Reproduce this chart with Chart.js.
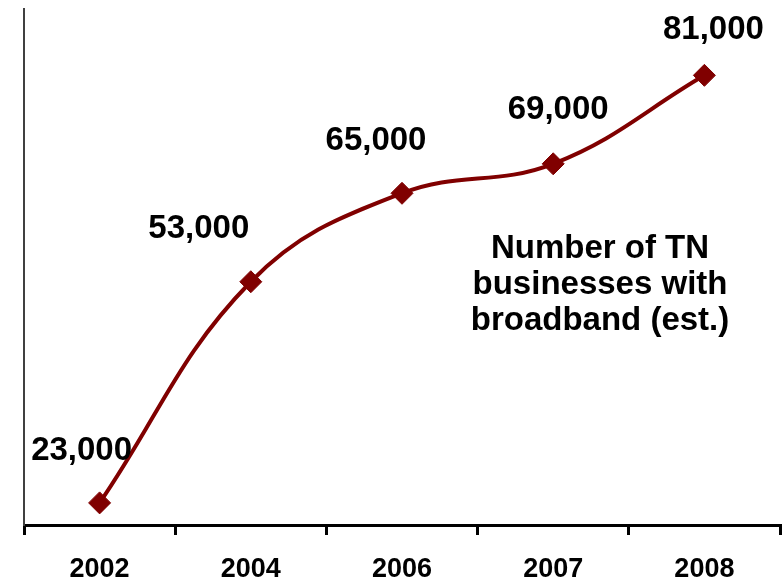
<!DOCTYPE html>
<html>
<head>
<meta charset="utf-8">
<script src="https://cdn.jsdelivr.net/npm/chart.js@4/dist/chart.umd.min.js"></script>
<style>
  html, body { margin: 0; padding: 0; background: #fff; }
  #wrap { width: 782px; height: 579px; }
</style>
</head>
<body>
<div id="wrap"><canvas id="broadband" width="782" height="579"></canvas></div>
<script>
const years = ['2002', '2004', '2006', '2007', '2008'];
const businesses = [23000, 53000, 65000, 69000, 81000];
const noteLines = ['Number of TN', 'businesses with', 'broadband (est.)'];

const FONT = "Arial, 'Liberation Sans', sans-serif";
const RED = '#800000';

// value labels sit above-left / above-right of each marker like the original
const labelShift = [[-18, -43], [-52, -44], [-26, -43], [5, -45], [9, -36]];

const pointLabels = {
    id: 'pointLabels',
    afterDatasetsDraw(chart) {
        const ctx = chart.ctx;
        const meta = chart.getDatasetMeta(0);
        ctx.save();
        ctx.font = 'bold 33px ' + FONT;
        ctx.fillStyle = '#000';
        ctx.textAlign = 'center';
        ctx.textBaseline = 'alphabetic';
        meta.data.forEach((pt, i) => {
            const text = businesses[i].toLocaleString('en-US');
            ctx.fillText(text, pt.x + labelShift[i][0], pt.y + labelShift[i][1]);
        });
        // legend-like note inside the plot
        noteLines.forEach((line, i) => {
            ctx.fillText(line, 600, 258 + i * 36);
        });
        ctx.restore();
    }
};

new Chart('broadband', {
    type: 'line',
    data: {
        labels: years,
        datasets: [{
            label: 'Number of TN businesses with broadband (est.)',
            data: businesses,
            borderColor: RED,
            backgroundColor: RED,
            borderWidth: 4,
            tension: 0.4,
            pointStyle: 'rectRot',
            pointRadius: 11,
            pointBorderWidth: 1,
            pointBackgroundColor: RED,
            pointBorderColor: RED,
            clip: false
        }]
    },
    options: {
        responsive: false,
        animation: false,
        layout: {
            autoPadding: false,
            padding: { left: 24, right: 2, top: 9, bottom: 0 }
        },
        plugins: {
            legend: { display: false },
            tooltip: { enabled: false }
        },
        scales: {
            x: {
                type: 'category',
                offset: true,
                afterFit(scale) { scale.height = 54; },
                grid: {
                    offset: true,
                    drawOnChartArea: false,
                    tickLength: 10,
                    color: '#000',
                    lineWidth: 3
                },
                border: { color: '#000', width: 3 },
                ticks: {
                    color: '#000',
                    padding: 21,
                    font: { family: FONT, size: 27, weight: 'bold', lineHeight: 1 }
                }
            },
            y: {
                min: 20000,
                max: 90000,
                grid: { display: false, drawTicks: false },
                border: { display: true, color: '#404040', width: 2 },
                ticks: { display: false }
            }
        }
    },
    plugins: [pointLabels]
});
</script>
</body>
</html>
